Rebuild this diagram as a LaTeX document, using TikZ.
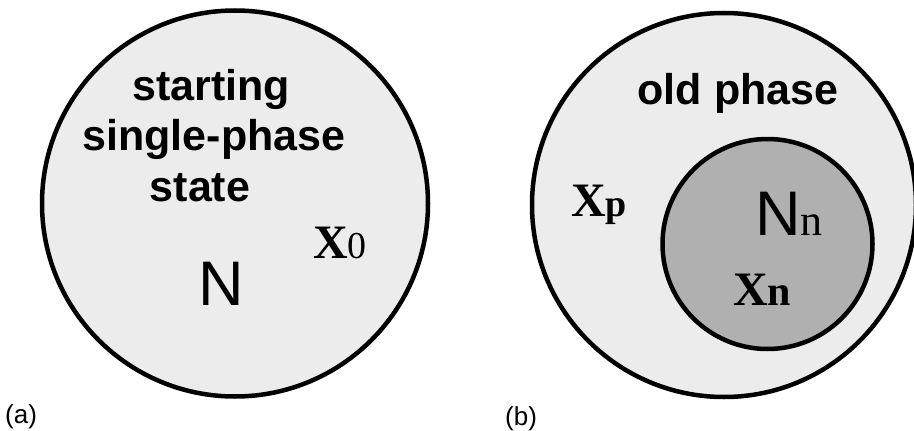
\documentclass[tikz,border=0pt]{standalone}
\usepackage{fontspec}
\setmainfont{Liberation Serif}
\setsansfont{Liberation Sans}
\definecolor{lightph}{RGB}{236,236,236}
\definecolor{darkph}{RGB}{176,176,176}
\begin{document}
\begin{tikzpicture}[x=1pt,y=-1pt,
  ring/.style={circle, draw=black, line width=4.5pt, inner sep=0pt},
  big/.style={font=\sffamily\bfseries\fontsize{43}{43}\selectfont, inner sep=0pt, anchor=base},
  sym/.style={inner sep=0pt, anchor=base west},
  panel/.style={font=\sffamily\fontsize{26}{26}\selectfont, inner sep=0pt, anchor=base west}]
\fill[white] (0,0) rectangle (914,431);
\useasboundingbox (0,0) rectangle (914,431);
% panel (a)
\node[ring, fill=lightph, minimum size=386pt] (A) at (235,203.5) {};
\node[big] (t1) at (211,100) {starting};
\node[big] (t2) at (214,150) {single-phase};
\node[big] (t3) at (200,201) {state};
\node[sym, font=\sffamily\fontsize{63}{63}\selectfont] (N) at (198,305) {N};
\node[sym] (X0) at (313,258) {{\bfseries\fontsize{48}{48}\selectfont X}{\fontsize{38}{38}\selectfont 0}};
\node[panel] (la) at (5,423) {(a)};
% panel (b)
\node[ring, fill=lightph, minimum size=384pt] (B) at (724,205) {};
\node[ring, fill=darkph, minimum size=210pt] (C) at (767.5,244) {};
\node[big] (op) at (738,104) {old phase};
\node[sym] (Xp) at (571,216) {{\bfseries\fontsize{48}{48}\selectfont X}{\bfseries\fontsize{38}{38}\selectfont p}};
\node[sym] (Nn) at (755,235) {{\sffamily\fontsize{63}{63}\selectfont N}{\fontsize{44}{44}\selectfont n}};
\node[sym] (Xn) at (733,305) {{\bfseries\fontsize{48}{48}\selectfont X}{\bfseries\fontsize{42}{42}\selectfont n}};
\node[panel] (lb) at (505,425) {(b)};
\end{tikzpicture}
\end{document}
